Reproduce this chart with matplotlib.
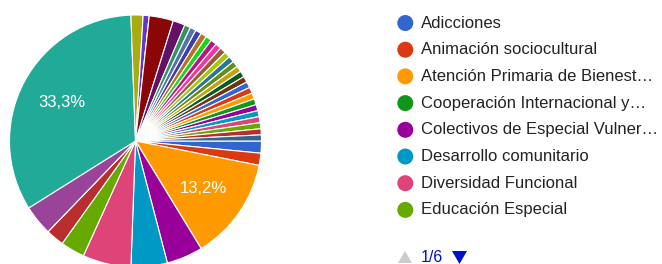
import matplotlib
matplotlib.use("Agg")
import matplotlib.pyplot as plt
from matplotlib.patches import Polygon, Circle

# ---- data ----
categories = [
    "Adicciones", "Animación sociocultural", "Atención Primaria de Bienestar Social",
    "Cooperación Internacional y Desarrollo", "Colectivos de Especial Vulnerabilidad",
    "Desarrollo comunitario", "Diversidad Funcional", "Educación Especial",
] + [f"Opción {i}" for i in range(9, 42)]
counts = [2, 2, 17, 0, 6, 6, 8, 4, 3, 0, 5, 43, 2, 1, 0, 4, 2] + [1] * 24
legend_labels = [
    "Adicciones", "Animación sociocultural", "Atención Primaria de Bienest…",
    "Cooperación Internacional y…", "Colectivos de Especial Vulner…",
    "Desarrollo comunitario", "Diversidad Funcional", "Educación Especial",
]
page_text = "1/6"

palette = ["#3366CC", "#DC3912", "#FF9900", "#109618", "#990099", "#0099C6",
           "#DD4477", "#66AA00", "#B82E2E", "#316395", "#994499", "#22AA99",
           "#AAAA11", "#6633CC", "#E67300", "#8B0707", "#651067", "#329262",
           "#5574A6", "#3B3EAC", "#B77322", "#16D620", "#B91383", "#F4359E",
           "#9C5935", "#A9C413", "#2A778D", "#668D1C", "#BEA413", "#0C5922",
           "#743411"]
colors = [palette[i % len(palette)] for i in range(len(counts))]

plt.rcParams['font.family'] = ['Liberation Sans', 'DejaVu Sans']

W, H = 662, 264
fig = plt.figure(figsize=(W / 100, H / 100), dpi=100)
ax = fig.add_axes([0, 0, 1, 1])

def Y(y):
    return H - y

cx, cy, R = 135.5, 141, 126

def fmt(p):
    return f"{p:.1f}%".replace(".", ",") if p > 10 else ""

wedges, texts, autotexts = ax.pie(
    counts, colors=colors, startangle=0, counterclock=False,
    center=(cx, Y(cy)), radius=R, autopct=fmt, pctdistance=0.66,
    wedgeprops=dict(edgecolor="white", linewidth=0.8),
    textprops=dict(color="white", fontsize=12),
)

ax.set_xlim(0, W)
ax.set_ylim(0, H)
ax.set_aspect("auto")
ax.axis("off")

# legend
row0, dy = 23, 26.7
for i, lab in enumerate(legend_labels):
    yy = row0 + i * dy
    ax.add_patch(Circle((405.3, Y(yy)), 8, color=colors[i], lw=0))
    ax.text(421, Y(yy), lab, fontsize=12, color="#222222", va="center", ha="left")

# pager
ax.add_patch(Polygon([(398, Y(263)), (412, Y(263)), (405, Y(251))], closed=True,
                     color="#cccccc", lw=0))
ax.text(421, Y(261.5), page_text, fontsize=11.5, color="#0011cc", va="baseline", ha="left")
ax.add_patch(Polygon([(452, Y(251)), (467, Y(251)), (459.5, Y(264))], closed=True,
                     color="#0011cc", lw=0))

fig.savefig("out.png", dpi=100)
